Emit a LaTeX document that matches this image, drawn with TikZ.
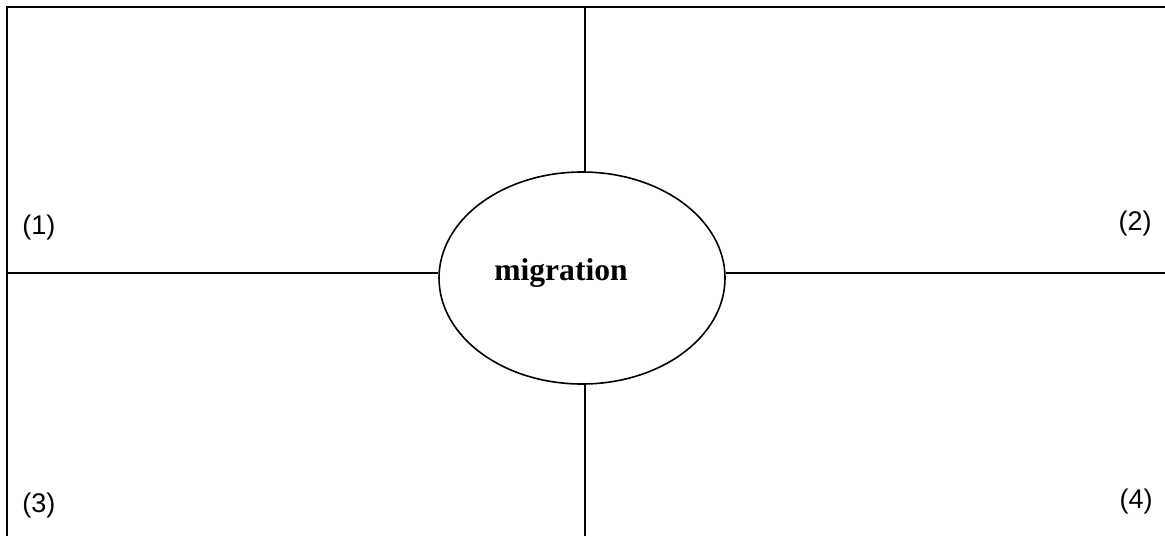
\documentclass[tikz,border=0pt]{standalone}
\usepackage{fontspec}
\setmainfont{Liberation Serif}
\setsansfont{Liberation Sans}
\usetikzlibrary{positioning,shapes.geometric}
\tikzset{
  rule/.style={draw, line width=0.8pt},
  topicbox/.style={draw, ellipse, line width=0.8pt, minimum width=143pt, minimum height=106pt, inner sep=0pt, font=\fontsize{15.8}{18}\selectfont\bfseries},
  quadlabel/.style={inner sep=0pt, font=\sffamily\fontsize{13.5}{15}\selectfont}
}

\begin{document}
\begin{tikzpicture}[x=0.5pt, y=-0.5pt]
  \useasboundingbox (0,0) rectangle (1165,536);

  % frame (top and left edges only)
  \coordinate (tl) at (7,7);
  \coordinate (tr) at (1165,7);
  \coordinate (bl) at (7,536);
  \draw[rule] (tr) -- (tl) -- (bl);

  \node[topicbox] (mig) at (582,278) {\hspace*{-21pt}\raisebox{8pt}{migration}};

  % cross lines
  \coordinate (ctop) at (585,7);
  \coordinate (cbot) at (585,536);
  \coordinate (cleft) at (7,273);
  \coordinate (cright) at (1165,273);
  \draw[rule] (ctop) -- (ctop |- mig.north);
  \draw[rule] (cbot) -- (cbot |- mig.south);
  \draw[rule] (cleft) -- (cleft -| mig.west);
  \draw[rule] (cright) -- (cright -| mig.east);

  \node[quadlabel, anchor=west] (q1) at (22,228) {(1)};
  \node[quadlabel, anchor=east] (q2) at (1152,224) {(2)};
  \node[quadlabel, anchor=west] (q3) at (22,505) {(3)};
  \node[quadlabel, anchor=east] (q4) at (1153,502) {(4)};
\end{tikzpicture}
\end{document}
